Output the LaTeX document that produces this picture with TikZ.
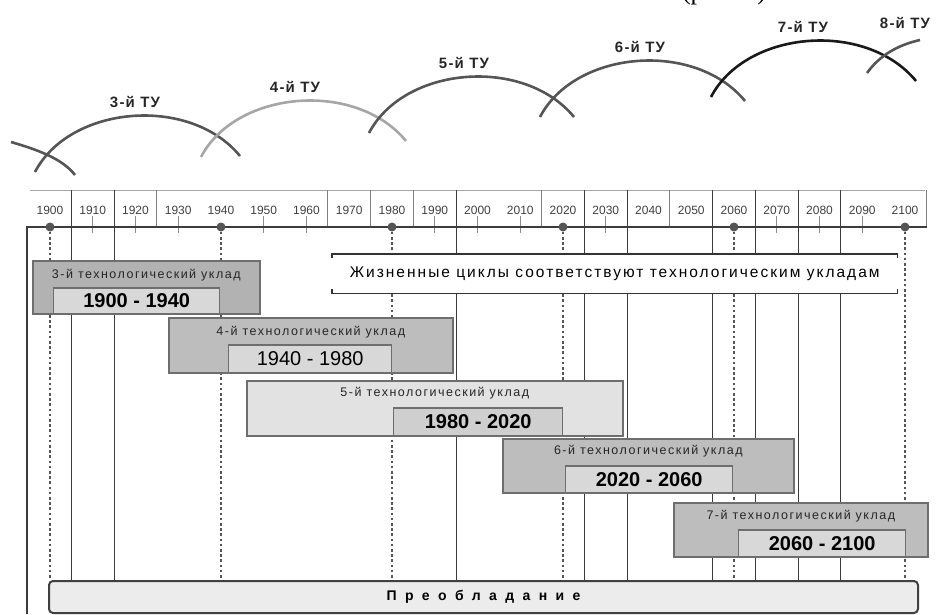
\documentclass[tikz,border=0pt]{standalone}
\usepackage{fontspec}
\setmainfont{Liberation Sans}
\newfontfamily\capfont{Liberation Serif}
\usetikzlibrary{positioning}
\definecolor{tugrid}{HTML}{3C3C3C}
\definecolor{tudot}{HTML}{555555}
\definecolor{tuedge}{HTML}{6E6E6E}
\definecolor{tubox}{HTML}{BDBDBD}
\definecolor{tuinner}{HTML}{D8D8D8}
\definecolor{tulight}{HTML}{E2E2E2}
\definecolor{tubar}{HTML}{ECECEC}

\begin{document}
\begin{tikzpicture}[x=1pt, y=-1pt,
        year/.style={font=\fontsize{12}{13}\selectfont, text=black!75, inner sep=0pt},
        tulabel/.style={font=\fontsize{15}{16}\selectfont\bfseries\addfontfeature{LetterSpace=8}, text=black!85, inner sep=0pt},
        arcline/.style={line width=2.6pt, draw=tudot},
        uklad/.style={draw=tuedge, line width=1.6pt, fill=tubox, anchor=north west, inner sep=0pt},
        ukyears/.style={draw=tuedge, line width=1.4pt, fill=tuinner, anchor=south west, inner sep=0pt, font=\fontsize{20}{22}\selectfont},
        uktitle/.style={font=\fontsize{12.5}{14}\selectfont\addfontfeature{LetterSpace=12}, text=black!85, inner sep=0pt},
        gridline/.style={draw=tugrid, line width=1.2pt},
        dotline/.style={draw=tudot, line width=2.6pt, dash pattern=on 2.6pt off 2.6pt},
        dotmark/.style={circle, fill=tudot, minimum size=9pt, inner sep=0pt}]
        \useasboundingbox (0,0) rectangle (943,614);
        % caption, cut by the page edge
        \node[font=\capfont\fontsize{26}{28}\selectfont, anchor=base, inner sep=0pt] (cap) at (724,-0.5) {(рис. 1)};
        % year row
        \draw[draw=black!35, line width=1pt] (30,190) -- (925,190);
        \foreach \k in {2.5,6.5,7.5,8.5,11.5,14.5,20.5}
          \draw[draw=black!50, line width=1.1pt] ({50+42.75*\k},190) -- ({50+42.75*\k},227);
        \foreach \k in {0.5,1.5,9.5,12.5,13.5,15.5,16.5,17.5,18.5}
          \draw[gridline] ({50+42.75*\k},190) -- ({50+42.75*\k},580);
        \foreach \k [evaluate=\k as \yr using int(1900+10*\k)] in {0,...,20}
          \node[year] (y\k) at ({50+42.75*\k},210) {\yr};
        \foreach \k in {1,2,3,5,6,9,10,11,13,17,18,19}
          \draw[draw=black!45, line width=1pt] ({50+42.75*\k},216) -- ({50+42.75*\k},233);
        % axis
        \coordinate (ax0) at (27,227);
        \coordinate (ax1) at (927,227);
        \draw[gridline, line width=1.5pt] (27,614) -- (ax0) -- (ax1);
        \node[draw=black!75, line width=2pt, fill=tubar, rounded corners=4pt, minimum width=869pt, minimum height=32pt,
          anchor=north west, inner sep=0pt, font=\fontsize{14}{16}\selectfont\bfseries\addfontfeature{LetterSpace=60}] (pre) at (48,580) {Преобладание};
        \foreach \k in {0,4,...,20} {
          \node[dotmark] (d\k) at ({50+42.75*\k},227) {};
          \draw[dotline] (d\k.south) -- (d\k.south |- pre.north);
        }
        % technological modes
        \node[uklad, fill=black!30, minimum width=227pt, minimum height=53pt] (u3) at (32,260) {};
        \node[uktitle] (u3t) at ([yshift=-15pt]u3.north) {3-й технологический уклад};
        \node[ukyears, font=\fontsize{20}{22}\selectfont\bfseries, minimum width=166pt, minimum height=26pt] (u3y) at ([xshift=21pt]u3.south west) {1900 - 1940};
        \node[uklad, minimum width=284pt, minimum height=55pt] (u4) at (168,317) {};
        \node[uktitle] (u4t) at ([yshift=-15pt]u4.north) {4-й технологический уклад};
        \node[ukyears, minimum width=163pt, minimum height=28pt] (u4y) at ([xshift=60pt]u4.south west) {1940 - 1980};
        \node[uklad, fill=tulight, minimum width=376pt, minimum height=55pt] (u5) at (246,380) {};
        \node[uktitle] (u5t) at ([yshift=-13pt]u5.north) {5-й технологический уклад};
        \node[ukyears, fill=black!19, font=\fontsize{20}{22}\selectfont\bfseries, minimum width=169pt, minimum height=28pt] (u5y) at ([xshift=147pt]u5.south west) {1980 - 2020};
        \node[uklad, minimum width=291pt, minimum height=54pt] (u6) at (502,438) {};
        \node[uktitle] (u6t) at ([yshift=-13pt]u6.north) {6-й технологический уклад};
        \node[ukyears, font=\fontsize{20}{22}\selectfont\bfseries, minimum width=167pt, minimum height=27pt] (u6y) at ([xshift=63pt]u6.south west) {2020 - 2060};
        \node[uklad, minimum width=254pt, minimum height=54pt] (u7) at (673,502) {};
        \node[uktitle] (u7t) at ([yshift=-14pt]u7.north) {7-й технологический уклад};
        \node[ukyears, font=\fontsize{20}{22}\selectfont\bfseries, minimum width=167pt, minimum height=27pt] (u7y) at ([xshift=65pt]u7.south west) {2060 - 2100};
        % life cycles note
        \node[fill=white, minimum width=565pt, minimum height=39pt, inner sep=0pt, anchor=north west,
          font=\fontsize{15.5}{17}\selectfont\addfontfeature{LetterSpace=13}] (life) at (332,254) {Жизненные циклы соответствуют технологическим укладам};
        \draw[black!80, line width=1.6pt] ([yshift=-4pt]life.north west) -- (life.north west) -- (life.north east) -- ([yshift=-4pt]life.north east);
        \draw[black!80, line width=1.6pt] ([yshift=4pt]life.south west) -- (life.south west) -- (life.south east) -- ([yshift=4pt]life.south east);
        % life cycle arcs
        \draw[arcline] (11,142) .. controls (35,149) and (62,158) .. (75,175);
        \foreach \sx/\sy/\col in {35/172/tudot, 201/157/black!35, 369/133/tudot, 540/117/tudot, 711/97/black!90}
          \draw[arcline, draw=\col] (\sx,\sy) .. controls ({\sx+35},{\sy-67}) and ({\sx+155},{\sy-77}) .. ({\sx+205},{\sy-16});
        \draw[arcline] (867,73) .. controls (880,55) and (898,45) .. (920,40);
        \node[tulabel] (tu3) at (135,102) {3-й ТУ};
        \node[tulabel] (tu4) at (295,87) {4-й ТУ};
        \node[tulabel] (tu5) at (464,63) {5-й ТУ};
        \node[tulabel] (tu6) at (640,47) {6-й ТУ};
        \node[tulabel] (tu7) at (803,27) {7-й ТУ};
        \node[tulabel] (tu8) at (905,23) {8-й ТУ};
      \end{tikzpicture}
\end{document}
